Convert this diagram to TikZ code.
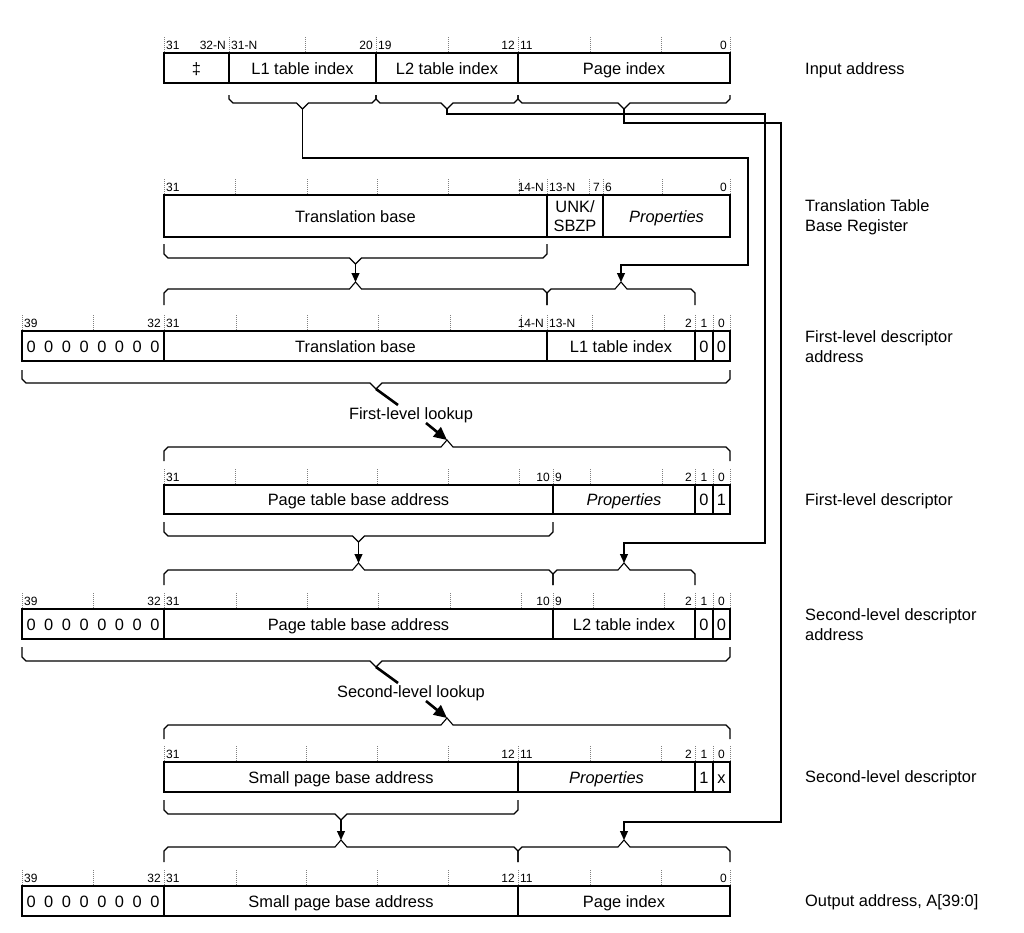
\documentclass[tikz,border=0pt]{standalone}
\usepackage{fontspec}
\setmainfont{Liberation Sans}
\usetikzlibrary{arrows.meta}
\newcounter{lblc}
\begin{document}
\begin{tikzpicture}[x=1pt,y=-1pt,
  fieldbase/.style={draw, line width=1.6pt, inner sep=0pt, font=\fontsize{16.4}{19}\selectfont, align=center},
  field/.style={fieldbase, text height=12pt, text depth=0pt},
  bitlbl/.style={font=\fontsize{12}{14}\selectfont, inner sep=0pt},
  tickln/.style={gray, line width=0.6pt, dash pattern=on 1pt off 1pt},
  brc/.style={line width=1.1pt, line join=miter},
  conn/.style={line width=1.1pt},
  arr/.style={conn, -{Triangle[length=9pt,width=8pt]}},
  look/.style={line width=2.6pt},
  lookarr/.style={line width=2.6pt, -{Triangle[length=13pt,width=12pt]}},
  rowlbl/.style={font=\fontsize{16.4}{20}\selectfont, align=left, anchor=west, inner sep=0pt, yshift=-2pt},
  lklbl/.style={font=\fontsize{16.4}{20}\selectfont, inner sep=0pt, yshift=-2pt},
]
\newcommand\fld[6]{\node[field, minimum width={(#3-#2)*1pt}, minimum height={(#5-#4)*1pt}] (#1) at ({(#2+#3)/2},{(#4+#5)/2}) {#6};}
\newcommand\tks[2]{\foreach \t in {#2} {\draw[tickln] (\t,#1-16) -- (\t,#1);}}
\newcommand\bitL[3]{\stepcounter{lblc}\node[bitlbl, anchor=base west] (bit\arabic{lblc}) at (#1+2,#2-4) {#3};}
\newcommand\bitR[3]{\stepcounter{lblc}\node[bitlbl, anchor=base east] (bit\arabic{lblc}) at (#1-3,#2-4) {#3};}
\newcommand\bitC[3]{\stepcounter{lblc}\node[bitlbl, anchor=base] (bit\arabic{lblc}) at (#1,#2-4) {#3};}
\newcommand\bracedn[5]{\draw[brc] (#2,#4) -- (#2,#5-4) -- (#2+4,#5) -- ({(#2+#3)/2-6},#5) -- ({(#2+#3)/2},#5+6) coordinate (#1) -- ({(#2+#3)/2+6},#5) -- (#3-4,#5) -- (#3,#5-4) -- (#3,#4);}
\newcommand\braceup[5]{\draw[brc] (#2,#4) -- (#2,#5+4) -- (#2+4,#5) -- ({(#2+#3)/2-6},#5) -- ({(#2+#3)/2},#5-7) coordinate (#1) -- ({(#2+#3)/2+6},#5) -- (#3-4,#5) -- (#3,#5+4) -- (#3,#4);}
\newcommand\zeros{\makebox[133pt][s]{0 0 0 0 0 0 0 0}}

\useasboundingbox (0,0) rectangle (1024,932);

% ---------- Row 1: input address
\tks{53}{164,229,305,376,448,518,590,661,730}
\bitL{164}{53}{31}\bitR{229}{53}{32-N}\bitL{229}{53}{31-N}\bitR{376}{53}{20}
\bitL{376}{53}{19}\bitR{518}{53}{12}\bitL{518}{53}{11}\bitR{730}{53}{0}
\fld{f1a}{164}{229}{53}{83}{‡}
\fld{f1b}{229}{376}{53}{83}{L1 table index}
\fld{f1c}{376}{518}{53}{83}{L2 table index}
\fld{f1d}{518}{730}{53}{83}{Page index}
\bracedn{bA}{229}{376}{95}{103}
\bracedn{bB}{376}{518}{95}{103}
\bracedn{bC}{518}{730}{95}{103}

% ---------- Row 2: TTBR
\tks{195}{164,235,307,377,448,519,547,589,603,662,730}
\bitL{164}{195}{31}\bitR{547}{195}{14-N}\bitL{547}{195}{13-N}\bitR{603}{195}{7}
\bitL{603}{195}{6}\bitR{730}{195}{0}
\fld{f2a}{164}{547}{195}{237}{Translation base}
\node[fieldbase, minimum width=56pt, minimum height=42pt] (f2b) at (575,216) {UNK/\\SBZP};
\fld{f2c}{603}{730}{195}{237}{\textit{Properties}}
\bracedn{bD}{164}{547}{244}{258}

% ---------- Row 3: first-level descriptor address
\braceup{tA}{164}{547}{305}{289}
\braceup{tB}{547}{695}{305}{289}
\tks{331}{22,93,164,236,307,378,450,521,547,592,664,695,713,730}
\bitL{22}{331}{39}\bitR{164}{331}{32}\bitL{164}{331}{31}\bitR{547}{331}{14-N}
\bitL{547}{331}{13-N}\bitR{695}{331}{2}\bitC{704}{331}{1}\bitC{721.5}{331}{0}
\fld{f3a}{22}{164}{331}{361}{\zeros}
\fld{f3b}{164}{547}{331}{361}{Translation base}
\fld{f3c}{547}{695}{331}{361}{L1 table index}
\fld{f3d}{695}{713}{331}{361}{0}
\fld{f3e}{713}{730}{331}{361}{0}
\bracedn{bE}{22}{730}{370}{383}

% ---------- first-level lookup
\coordinate (lkA) at (398,405);
\coordinate (lkB) at (426,423);
\node[lklbl] (lk1) at (411,413) {First-level lookup};

% ---------- Row 4: first-level descriptor
\braceup{tC}{164}{730}{461}{447}
\tks{485}{164,235,307,377,448,519,553,590,662,695,713,730}
\bitL{164}{485}{31}\bitR{553}{485}{10}\bitL{553}{485}{9}\bitR{695}{485}{2}
\bitC{704}{485}{1}\bitC{721.5}{485}{0}
\fld{f4a}{164}{553}{485}{514}{Page table base address}
\fld{f4b}{553}{695}{485}{514}{\textit{Properties}}
\fld{f4c}{695}{713}{485}{514}{0}
\fld{f4d}{713}{730}{485}{514}{1}
\bracedn{bF}{164}{553}{522}{536}

% ---------- Row 5: second-level descriptor address
\braceup{tD}{164}{553}{585}{570}
\braceup{tE}{553}{695}{585}{570}
\tks{609}{22,93,164,236,307,378,450,521,553,593,664,695,713,730}
\bitL{22}{609}{39}\bitR{164}{609}{32}\bitL{164}{609}{31}\bitR{553}{609}{10}
\bitL{553}{609}{9}\bitR{695}{609}{2}\bitC{704}{609}{1}\bitC{721.5}{609}{0}
\fld{f5a}{22}{164}{609}{639}{\zeros}
\fld{f5b}{164}{553}{609}{639}{Page table base address}
\fld{f5c}{553}{695}{609}{639}{L2 table index}
\fld{f5d}{695}{713}{609}{639}{0}
\fld{f5e}{713}{730}{609}{639}{0}
\bracedn{bG}{22}{730}{647}{661}

% ---------- second-level lookup
\coordinate (lkC) at (398,683);
\coordinate (lkD) at (426,701);
\node[lklbl] (lk2) at (411,691) {Second-level lookup};

% ---------- Row 6: second-level descriptor
\braceup{tF}{164}{730}{739}{725}
\tks{762}{164,236,306,377,448,518,590,661,695,713,730}
\bitL{164}{762}{31}\bitR{518}{762}{12}\bitL{518}{762}{11}\bitR{695}{762}{2}
\bitC{704}{762}{1}\bitC{721.5}{762}{0}
\fld{f6a}{164}{518}{762}{792}{Small page base address}
\fld{f6b}{518}{695}{762}{792}{\textit{Properties}}
\fld{f6c}{695}{713}{762}{792}{1}
\fld{f6d}{713}{730}{762}{792}{x}
\bracedn{bH}{164}{518}{800}{814}

% ---------- Row 7: output address
\braceup{tG}{164}{518}{862}{847}
\braceup{tH}{518}{730}{862}{847}
\tks{886}{22,93,164,236,306,377,448,518,590,661,730}
\bitL{22}{886}{39}\bitR{164}{886}{32}\bitL{164}{886}{31}\bitR{518}{886}{12}
\bitL{518}{886}{11}\bitR{730}{886}{0}
\fld{f7a}{22}{164}{886}{916}{\zeros}
\fld{f7b}{164}{518}{886}{916}{Small page base address}
\fld{f7c}{518}{730}{886}{916}{Page index}

% ---------- connectors
\draw[arr] (bA) -- ++(0,49) -| (748,265) -| (tB);
\draw[arr] (bB) -- ++(0,5) -| (765,543) -| (tE);
\draw[arr] (bC) -- ++(0,14) -| (781,822) -| (tH);
\draw[arr] (bD) -- (tA);
\draw[arr] (bF) -- (tD);
\draw[arr] (bH) -- (tG);
\draw[look] (bE) -- (lkA);
\draw[lookarr] (lkB) -- (tC);
\draw[look] (bG) -- (lkC);
\draw[lookarr] (lkD) -- (tF);

% ---------- row labels
\node[rowlbl] (r1) at (805,68) {Input address};
\node[rowlbl] (r2) at (805,215) {Translation Table\\Base Register};
\node[rowlbl] (r3) at (805,345) {First-level descriptor\\address};
\node[rowlbl] (r4) at (805,499) {First-level descriptor};
\node[rowlbl] (r5) at (805,623) {Second-level descriptor\\address};
\node[rowlbl] (r6) at (805,776) {Second-level descriptor};
\node[rowlbl] (r7) at (805,900) {Output address, A[39:0]};
\end{tikzpicture}
\end{document}
